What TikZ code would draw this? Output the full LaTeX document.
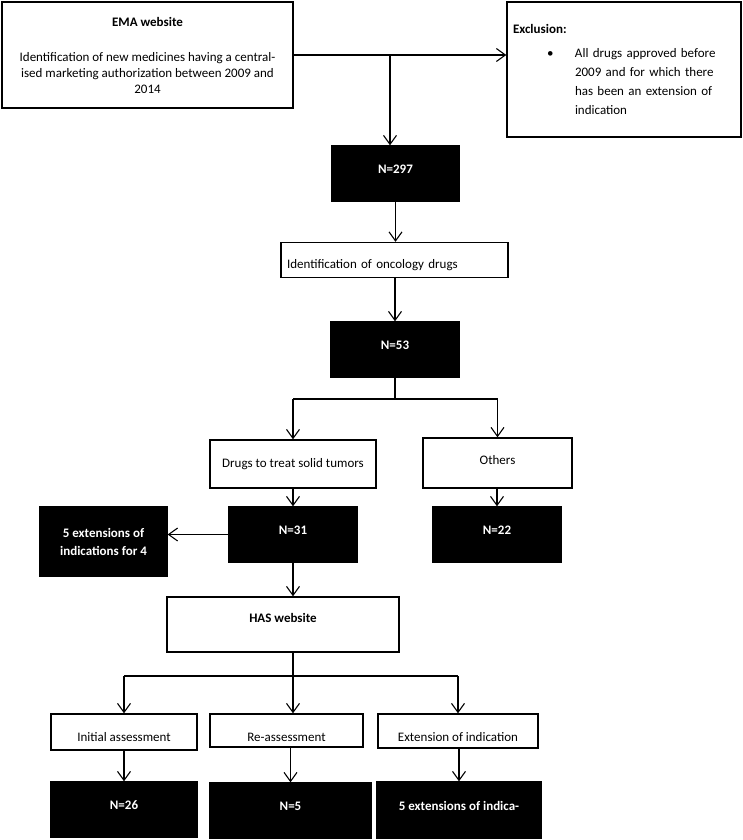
\documentclass[tikz,border=0pt]{standalone}
\usepackage{fontspec}
\setmainfont{Carlito}
\usetikzlibrary{arrows.meta}

\begin{document}
\begin{tikzpicture}[
    x=1pt, y=-1pt,
    every node/.style={font=\fontsize{13}{16}\selectfont},
    outline/.style={draw, line width=1.4pt, inner sep=0pt},
    oneline/.style={outline, text height=9pt, text depth=3pt},
    count/.style={outline, fill=black, text=white, font=\fontsize{13}{18}\selectfont\bfseries},
    num/.style={count, text height=9pt, text depth=9pt},
    arrow/.style={-{Straight Barb[length=9pt, width=13pt]}, line width=1.1pt},
    link/.style={line width=1.1pt}
]
\useasboundingbox (0,0) rectangle (742,840);

% EMA selection
\node[outline, minimum width=291pt, minimum height=106pt, align=center] (ema) at (147.5,55)
    {\textbf{EMA website}\\[19pt]Identification of new medicines having a central-\\ised marketing authorization between 2009 and\\2014};
\node[outline, minimum width=234pt, minimum height=135pt, text width=222pt, align=left,
      font=\fontsize{13}{19}\selectfont] (excl) at (624,69.5)
    {\textbf{Exclusion:}\\[5pt]\makebox[62pt][l]{\hspace*{34pt}\textbullet}All drugs approved before\\
     \hspace*{62pt}2009 and for which there\\\hspace*{62pt}has been an extension of\\\hspace*{62pt}indication};

\node[num, minimum width=127pt, minimum height=55pt] (n297) at (395.5,173.5) {N=297};
\node[oneline, minimum width=227pt, minimum height=35pt, text width=215pt, align=left, text height=20pt] (onco) at (394.5,260) {Identification of oncology drugs};
\node[num, minimum width=128pt, minimum height=55pt] (n53) at (395,349.5) {N=53};

% oncology split
\node[oneline, minimum width=166pt, minimum height=48pt] (solid) at (293,464) {Drugs to treat solid tumors};
\node[oneline, minimum width=149pt, minimum height=50pt, text depth=7pt] (others) at (497.5,463) {Others};
\node[num, minimum width=128pt, minimum height=55pt] (n31) at (293,534.5) {N=31};
\node[num, minimum width=128pt, minimum height=55pt] (n22) at (497,534.5) {N=22};
\node[count, minimum width=127pt, minimum height=69pt, align=center] (ext4) at (103.5,541.5) {5 extensions of\\indications for 4};

% HAS assessments
\node[oneline, minimum width=232pt, minimum height=55pt, text depth=14pt, font=\fontsize{13}{16}\selectfont\bfseries] (has) at (283,624.5) {HAS website};
\node[oneline, minimum width=146pt, minimum height=36pt, text height=22pt] (initial) at (124,732) {Initial assessment};
\node[oneline, minimum width=153pt, minimum height=33pt, text height=24pt] (reass) at (286.5,730.5) {Re-assessment};
\node[oneline, minimum width=160pt, minimum height=34pt, text height=23pt] (extind) at (458,731) {Extension of indication};
\node[num, minimum width=146pt, minimum height=55pt] (n26) at (124,809.5) {N=26};
\node[num, minimum width=161pt, minimum height=55pt] (n5) at (290.5,810.5) {N=5};
\node[num, minimum width=164pt, minimum height=56pt] (n5ext) at (459,810) {5 extensions of indica-};

\coordinate (emasplit) at (390,55);
\coordinate (fork1) at (395,399);
\coordinate (fork2) at (293,676);

% Arrows
\draw[arrow] (ema.east) -- (ema.east -| excl.west);
\draw[arrow] (emasplit) -- (emasplit |- n297.north);
\draw[arrow] (n297.south) -- (n297.south |- onco.north);
\draw[arrow] (n53.north |- onco.south) -- (n53.north);
\draw[link] (n53.south) -- (fork1);
\draw[link] (solid.north |- fork1) -- (others.north |- fork1);
\foreach \b in {solid, others} {
    \draw[arrow] (\b.north |- fork1) -- (\b.north);
}
\draw[arrow] (solid.south) -- (n31.north);
\draw[arrow] (n22.north |- others.south) -- (n22.north);
\draw[arrow] (n31.west) -- (n31.west -| ext4.east);
\draw[arrow] (n31.south) -- (n31.south |- has.north);
\draw[link] (n31.south |- has.south) -- (fork2);
\draw[link] (initial.north |- fork2) -- (extind.north |- fork2);
\foreach \b in {initial, extind} {
    \draw[arrow] (\b.north |- fork2) -- (\b.north);
}
\draw[arrow] (fork2) -- (fork2 |- reass.north);
\foreach \a/\b in {initial/n26, reass/n5, extind/n5ext} {
    \draw[arrow] (\b.north |- \a.south) -- (\b.north);
}

\end{tikzpicture}
\end{document}
